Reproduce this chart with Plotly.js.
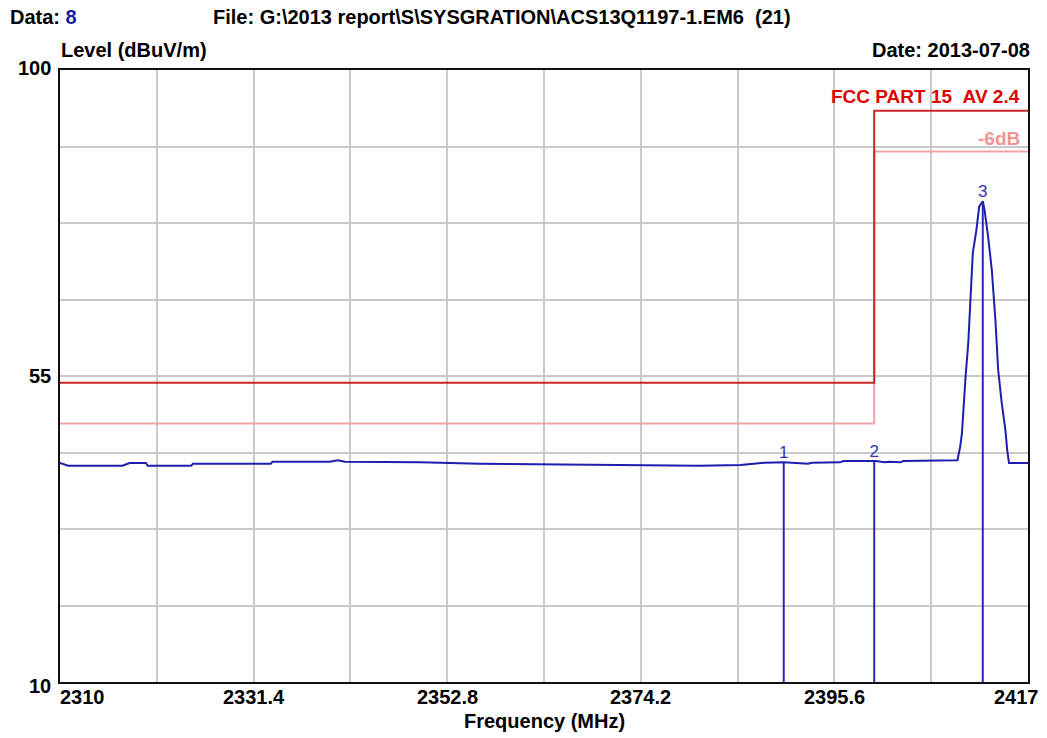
<!DOCTYPE html>
<html>
<head>
<meta charset="utf-8">
<script src="https://cdn.plot.ly/plotly-3.0.1.min.js"></script>
<style>html,body{margin:0;padding:0;background:#fff;}#chart{width:1047px;height:738px;}</style>
</head>
<body>
<div id="chart"></div>
<script>
// ---- data ----
var traceFreq = [2310.0, 2310.9, 2316.9, 2317.1, 2317.7, 2319.5, 2319.7, 2324.5, 2324.7, 2333.3, 2333.5, 2339.8, 2340.7, 2341.5, 2349.8, 2356.4, 2365.3, 2374.1, 2380.7, 2385.2, 2387.9, 2390.0, 2392.7, 2393.1, 2396.2, 2396.6, 2400.2, 2401.1, 2401.7, 2402.9, 2403.2, 2409.2, 2409.5, 2409.7, 2409.9, 2410.1, 2410.4, 2410.7, 2410.9, 2411.3, 2411.6, 2412.0, 2412.2, 2412.6, 2413.0, 2413.4, 2413.7, 2414.1, 2414.5, 2414.7, 2414.9, 2417.0];
var traceLevel = [42.2, 41.8, 41.8, 41.9, 42.2, 42.2, 41.8, 41.8, 42.1, 42.1, 42.4, 42.4, 42.6, 42.4, 42.3, 42.1, 42.0, 41.9, 41.8, 41.9, 42.25, 42.3, 42.1, 42.25, 42.3, 42.5, 42.5, 42.3, 42.4, 42.3, 42.5, 42.6, 44.6, 46.6, 51.5, 54.9, 59.9, 67.2, 73.1, 76.5, 79.9, 80.7, 79.4, 75.4, 70.6, 63.2, 55.9, 51.0, 47.1, 44.1, 42.2, 42.2];

var limitFreq = [2310, 2400, 2400, 2417];
var limitLevel = [54, 54, 94, 94];
var limitMinus6Level = [48, 48, 88, 88];
var limitLabel = "FCC PART 15\u00a0\u00a0AV 2.4";
var minus6Label = "-6dB";

var markerFreq = [2390.0, 2400.0, 2412.0];
var markerLevel = [42.3, 42.5, 80.7];
var markerLabel = ["1", "2", "3"];

var xTickVals = [2310, 2331.4, 2352.8, 2374.2, 2395.6, 2417];
var xTickText = ["2310", "2331.4", "2352.8", "2374.2", "2395.6", "2417"];
var yTickVals = [10, 55, 100];
var yTickText = ["10", "55", "100"];

var headerData = "8";
var headerFile = "File: G:\\2013 report\\S\\SYSGRATION\\ACS13Q1197-1.EM6\u00a0\u00a0(21)";
var headerDate = "Date: 2013-07-08";
var yTitle = "Level (dBuV/m)";
var xTitle = "Frequency (MHz)";

// ---- layout helpers (pixel -> paper) ----
var L = 60, R = 1028, T = 70, B = 682;
function pxX(x){ return (x - L) / (R - L); }
function pxY(y){ return (B - y) / (B - T); }

var FONT = "Liberation Sans, Arial, sans-serif";
var fBold = function(size, color){ return {family: FONT, size: size, color: color || "#000", weight: 700}; };

// marker line segments built from marker arrays
var mx = [], my = [];
for (var i = 0; i < markerFreq.length; i++) {
  mx.push(markerFreq[i], markerFreq[i], null);
  my.push(10, markerLevel[i], null);
}

var traces = [
  {x: limitFreq, y: limitMinus6Level, mode: "lines", line: {color: "#f2a4a4", width: 2}, hoverinfo: "skip"},
  {x: limitFreq, y: limitLevel, mode: "lines", line: {color: "#c82828", width: 2}, hoverinfo: "skip"},
  {x: mx, y: my, mode: "lines", line: {color: "#2828c8", width: 2}, hoverinfo: "skip"},
  {x: traceFreq, y: traceLevel, mode: "lines", line: {color: "#1e1eb0", width: 2}, hoverinfo: "skip"},
  {x: markerFreq, y: markerLevel, mode: "text", text: markerLabel, textposition: "top center",
   textfont: {family: FONT, size: 17, color: "#3434b0"}, hoverinfo: "skip"}
];

var ann = [];
// header
ann.push({xref: "paper", yref: "paper", x: pxX(8), y: pxY(17), xanchor: "left", yanchor: "middle", showarrow: false,
  text: "Data: <span style='color:#1a1aa8'>" + headerData + "</span>", font: fBold(20)});
ann.push({xref: "paper", yref: "paper", x: pxX(211), y: pxY(17), xanchor: "left", yanchor: "middle", showarrow: false,
  text: headerFile, font: fBold(20)});
ann.push({xref: "paper", yref: "paper", x: pxX(59), y: pxY(50), xanchor: "left", yanchor: "middle", showarrow: false,
  text: yTitle, font: fBold(20)});
ann.push({xref: "paper", yref: "paper", x: pxX(1032), y: pxY(50), xanchor: "right", yanchor: "middle", showarrow: false,
  text: headerDate, font: fBold(20)});
ann.push({xref: "paper", yref: "paper", x: 0.5, y: pxY(721), xanchor: "center", yanchor: "middle", showarrow: false,
  text: xTitle, font: fBold(20)});
// limit labels
ann.push({xref: "paper", yref: "y", x: pxX(1022), y: limitLevel[3], yshift: 14, xanchor: "right", yanchor: "middle", showarrow: false,
  text: limitLabel, font: fBold(19, "#e00000")});
ann.push({xref: "paper", yref: "y", x: pxX(1022), y: limitMinus6Level[3], yshift: 13, xanchor: "right", yanchor: "middle", showarrow: false,
  text: minus6Label, font: fBold(19, "#f09494")});
// x tick labels
for (var k = 0; k < xTickVals.length; k++) {
  var a = {xref: "x", yref: "paper", x: xTickVals[k], y: 0, yshift: -15, xanchor: "center", yanchor: "middle",
    showarrow: false, text: xTickText[k], font: fBold(20)};
  if (k === 0) { a.xanchor = "left"; a.xshift = -2; }
  if (k === xTickVals.length - 1) { a.xshift = -12; }
  ann.push(a);
}
// y tick labels
for (var j = 0; j < yTickVals.length; j++) {
  var ys = 0;
  if (j === 0) ys = -4;
  if (j === yTickVals.length - 1) ys = 2;
  ann.push({xref: "paper", yref: "y", x: 0, xshift: -7, y: yTickVals[j], yshift: ys, xanchor: "right", yanchor: "middle",
    showarrow: false, text: yTickText[j], font: fBold(20)});
}

var layout = {
  width: 1047, height: 738,
  margin: {l: L, r: 1047 - R, t: T, b: 738 - B, pad: 0},
  paper_bgcolor: "#fff", plot_bgcolor: "#fff",
  showlegend: false,
  xaxis: {range: [2310, 2417], tick0: 2310, dtick: 10.7, tickmode: "linear", showticklabels: false, ticks: "",
    showgrid: true, gridcolor: "#cacaca", gridwidth: 2, zeroline: false,
    showline: true, linecolor: "#111", linewidth: 2, mirror: true, fixedrange: true},
  yaxis: {range: [10, 100], tick0: 10, dtick: 11.25, tickmode: "linear", showticklabels: false, ticks: "",
    showgrid: true, gridcolor: "#cacaca", gridwidth: 2, zeroline: false,
    showline: true, linecolor: "#111", linewidth: 2, mirror: true, fixedrange: true},
  annotations: ann
};

Plotly.newPlot("chart", traces, layout, {displayModeBar: false, staticPlot: true});
</script>
</body>
</html>
